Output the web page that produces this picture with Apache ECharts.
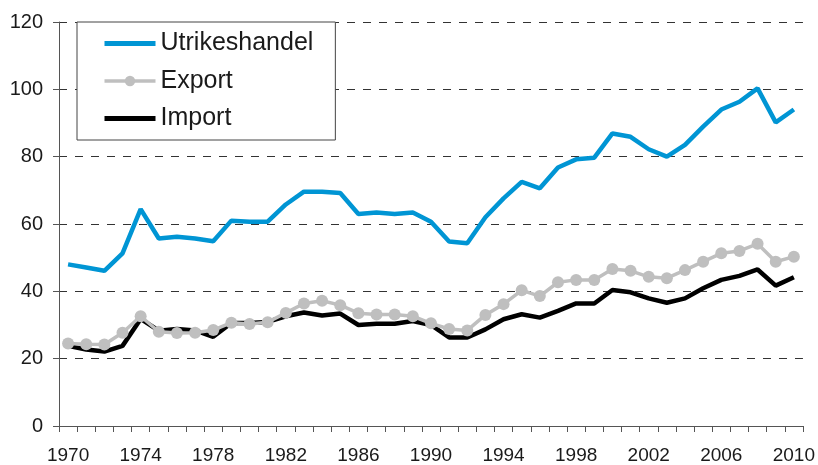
<!DOCTYPE html>
<html>
<head>
<meta charset="utf-8">
<script src="https://cdn.jsdelivr.net/npm/echarts@6/dist/echarts.min.js"></script>
<style>
html,body{margin:0;padding:0;background:#fff;}
#chart{width:818px;height:465px;}
</style>
</head>
<body>
<div id="chart"></div>
<script>
const years = [];
for (let y = 1970; y <= 2010; y++) years.push(String(y));

const utrikeshandel = [48.0,47.1,46.1,51.3,64.4,55.7,56.2,55.7,54.9,61.0,60.7,60.7,65.8,69.6,69.6,69.2,63.0,63.4,63.0,63.4,60.7,54.8,54.3,62.0,67.6,72.5,70.6,76.8,79.2,79.7,86.9,85.9,82.2,80.0,83.5,88.9,94.0,96.3,100.3,90.2,94.0];
const exportVals = [24.5,24.3,24.2,27.7,32.6,28.0,27.6,27.7,28.5,30.7,30.3,30.8,33.6,36.4,37.2,35.9,33.5,33.1,33.1,32.6,30.5,28.8,28.4,33.0,36.2,40.3,38.6,42.7,43.4,43.4,46.6,46.1,44.3,43.9,46.3,48.8,51.3,52.0,54.1,48.8,50.3];
const importVals = [23.8,22.7,22.1,23.8,31.8,28.3,28.8,28.4,26.5,30.6,30.6,30.9,32.6,33.7,32.8,33.4,30.0,30.4,30.4,31.2,30.0,26.3,26.3,28.7,31.7,33.2,32.2,34.2,36.4,36.4,40.4,39.7,37.9,36.6,37.9,40.9,43.4,44.6,46.5,41.7,44.2];
const seriesNames = ['Utrikeshandel','Export','Import'];

const FONT = "'Liberation Sans', Arial, sans-serif";
const chart = echarts.init(document.getElementById('chart'), null, {renderer:'canvas'});
chart.setOption({
  animation: false,
  backgroundColor: '#fff',
  grid: {left: 59, right: 15, top: 22, bottom: 39, containLabel: false},
  legend: {
    data: [
      {name: seriesNames[0], itemStyle: {opacity: 0}, lineStyle: {width: 5, color: '#0095d4'}},
      {name: seriesNames[1], itemStyle: {color: '#bfbfbf'}, lineStyle: {width: 3.5, color: '#bfbfbf'}},
      {name: seriesNames[2], itemStyle: {opacity: 0}, lineStyle: {width: 5, color: '#000'}}
    ],
    orient: 'vertical',
    left: 77, top: 22,
    padding: [9, 22, 9, 25],
    itemGap: 12.5,
    itemWidth: 51, itemHeight: 13,
    borderColor: '#444', borderWidth: 1,
    backgroundColor: '#fff',
    z: 10,
    textStyle: {fontFamily: FONT, fontSize: 25, color: '#1a1a1a'}
  },
  xAxis: {
    type: 'category',
    data: years,
    boundaryGap: true,
    axisLine: {lineStyle: {color: '#555', width: 1}},
    axisTick: {show: true, interval: 0, length: 6, lineStyle: {color: '#555'}},
    axisLabel: {interval: 3, fontFamily: FONT, fontSize: 19, color: '#1a1a1a', margin: 20},
    splitLine: {show: false}
  },
  yAxis: {
    type: 'value',
    min: 0, max: 120, interval: 20,
    axisLine: {show: true, lineStyle: {color: '#555', width: 1}},
    axisTick: {show: true, length: 6, lineStyle: {color: '#555'}},
    axisLabel: {fontFamily: FONT, fontSize: 20, color: '#1a1a1a', margin: 16},
    splitLine: {show: true, lineStyle: {color: '#333', width: 1, type: [8, 8]}}
  },
  series: [
    {name: 'Utrikeshandel', type: 'line', data: utrikeshandel, symbol: 'none',
     lineStyle: {color: '#0095d4', width: 4.5}, itemStyle: {color: '#0095d4'}, z: 3},
    {name: 'Export', type: 'line', data: exportVals, symbol: 'circle', symbolSize: 12,
     lineStyle: {color: '#bfbfbf', width: 3.5}, itemStyle: {color: '#bfbfbf'}, z: 4},
    {name: 'Import', type: 'line', data: importVals, symbol: 'none',
     lineStyle: {color: '#000', width: 4.5}, itemStyle: {color: '#000'}, z: 3}
  ]
});
</script>
</body>
</html>
